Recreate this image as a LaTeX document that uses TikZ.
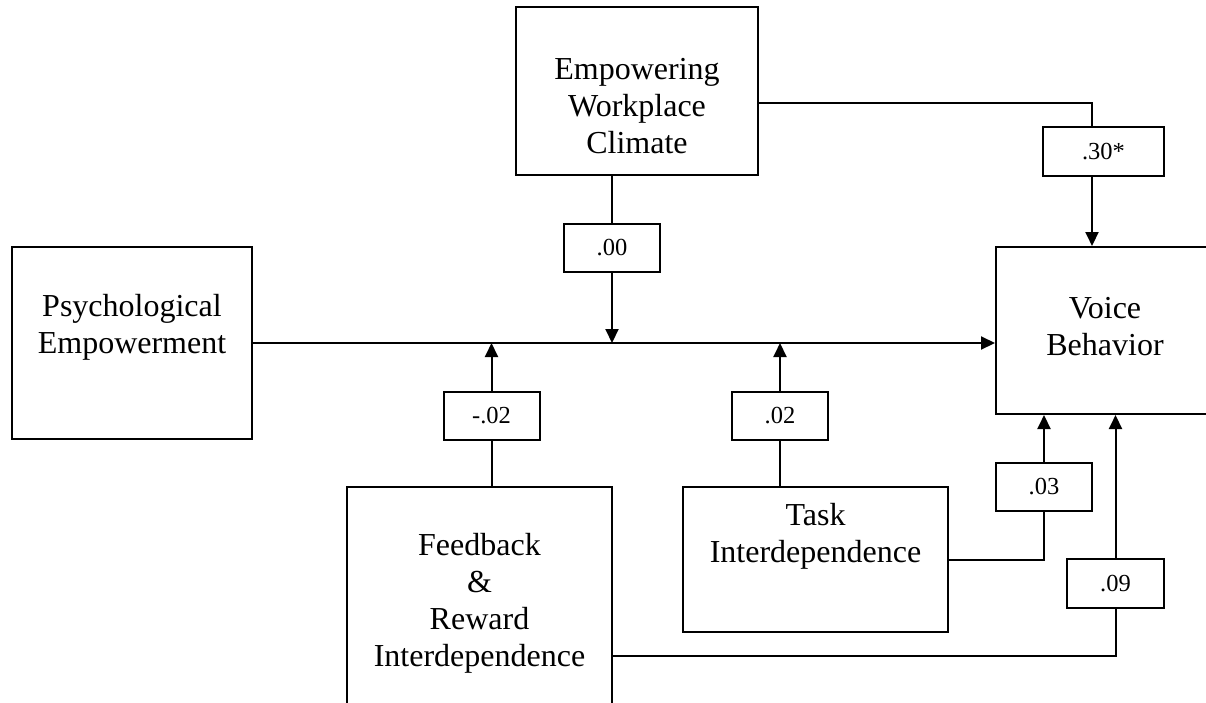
\documentclass[tikz,border=0pt]{standalone}
\usepackage{fontspec}
\setmainfont{Liberation Serif}
\usetikzlibrary{arrows.meta}
\begin{document}
\begin{tikzpicture}[x=1pt,y=-1pt,
  line width=2pt,
  box/.style={draw,line width=2pt,rectangle,inner sep=0pt},
  coef/.style={box,minimum width=96pt,minimum height=48pt,
    font=\fontsize{24.5}{28}\selectfont},
  txt/.style={align=center,inner sep=0pt,font=\fontsize{32}{37}\selectfont},
  arr/.style={-{Triangle[length=14pt,width=13pt]}}]
\useasboundingbox (0,0) rectangle (1206,702);
\fill[white] (0,0) rectangle (1206,702);
\begin{scope}
\clip (0,0) rectangle (1206,702);

% construct boxes
\node[box,minimum width=242pt,minimum height=168pt] (emp) at (637,91) {};
\node[txt] (emptxt) at (637,106) {Empowering\\Workplace\\Climate};

\node[box,minimum width=240pt,minimum height=192pt] (psych) at (132,343) {};
\node[txt] (psychtxt) at (132,327) {Psychological\\Empowerment};

\node[box,minimum width=218pt,minimum height=167pt] (voice) at (1105,330.5) {};
\node[txt] (voicetxt) at (1105,327) {Voice\\Behavior};

\node[box,minimum width=265pt,minimum height=145pt] (task) at (815.5,559.5) {};
\node[txt] (tasktxt) at (815.5,536) {Task\\Interdependence};

\node[box,minimum width=265pt,minimum height=238pt] (fb) at (479.5,606) {};
\node[txt] (fbtxt) at (479.5,603) {Feedback\\\&\\Reward\\Interdependence};

% path coefficients
\node[coef,minimum width=121pt,minimum height=49pt] (l30) at (1103.5,151.5) {.30*};
\node[coef] (l00) at (612,247.5) {.00};
\node[coef] (lm02) at (491.5,415.5) {-.02};
\node[coef] (l02) at (780,415.5) {.02};
\node[coef] (l03) at (1044,487) {.03};
\node[coef,minimum width=97pt,minimum height=49pt] (l09) at (1115.5,583.5) {.09};

% main effect
\draw[arr] (psych.east) -- (voice.west |- psych.east);

% climate paths
\draw ([yshift=-12pt]emp.east) -| ([xshift=-11.5pt]l30.north);
\draw[arr] ([xshift=-11.5pt]l30.south) -- ([xshift=-11.5pt]l30.south |- voice.north);
\draw (emp.south -| l00.north) -- (l00.north);
\draw[arr] (l00.south) -- (l00.south |- psych.east);

% feedback & reward paths
\draw (fb.north -| lm02.south) -- (lm02.south);
\draw[arr] (lm02.north) -- (lm02.north |- psych.east);
\draw ([yshift=-50pt]fb.east) -| (l09.south);
\draw[arr] (l09.north) -- (l09.north |- voice.south);

% task paths
\draw (task.north -| l02.south) -- (l02.south);
\draw[arr] (l02.north) -- (l02.north |- psych.east);
\draw (task.east) -| (l03.south);
\draw[arr] (l03.north) -- (l03.north |- voice.south);
\end{scope}
\end{tikzpicture}
\end{document}
